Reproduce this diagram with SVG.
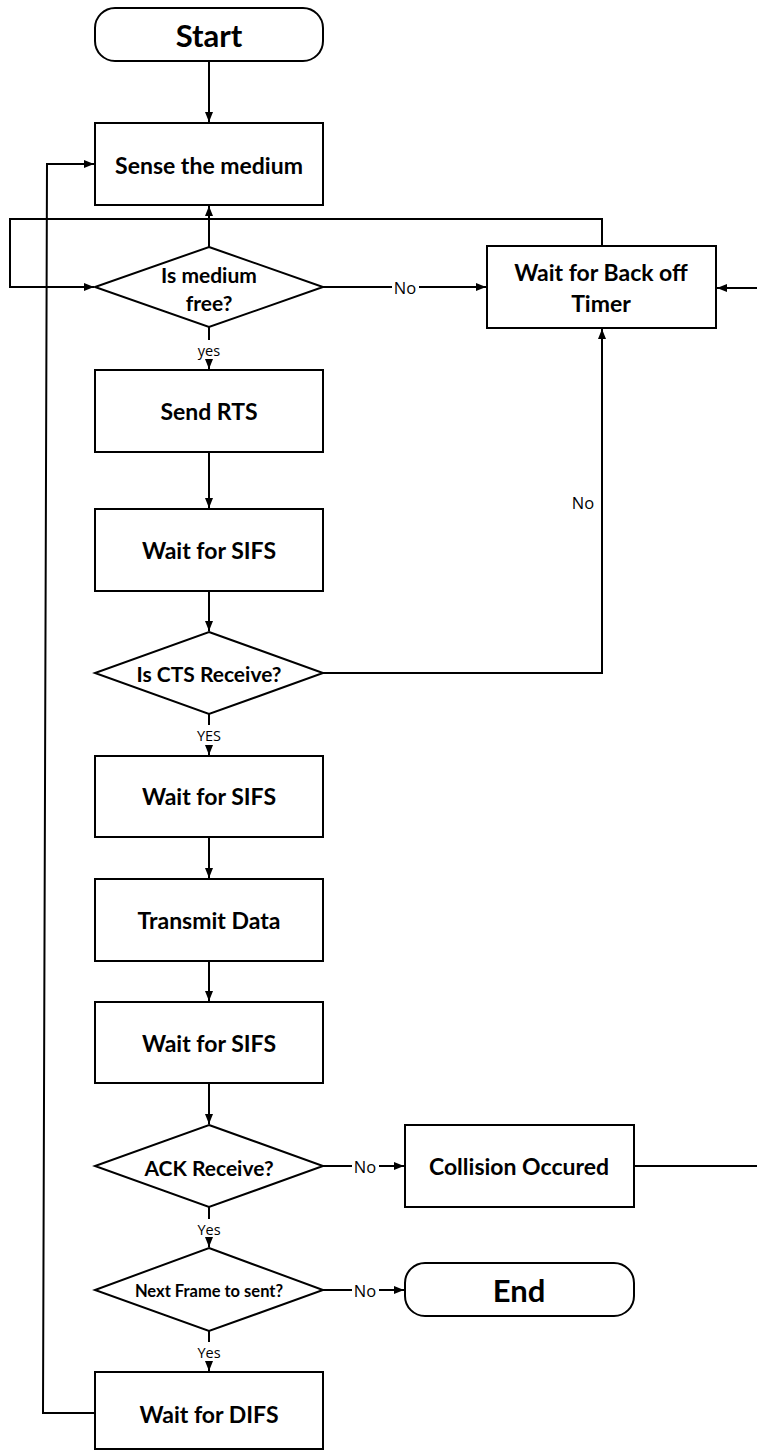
<svg xmlns="http://www.w3.org/2000/svg" width="757" height="1450" viewBox="0 0 757 1450">
<style>
.box{fill:#fff;stroke:#000;stroke-width:2}
.ln{fill:none;stroke:#000;stroke-width:2}
.t{font-family:Lato,"Open Sans","Liberation Sans",sans-serif;font-weight:bold;font-size:23px;fill:#000;text-anchor:middle;dominant-baseline:central}
.big{font-size:31px}
.dq{font-size:21px}
.sm{font-size:16.5px}
.lbl{font-family:"Open Sans","Liberation Sans",sans-serif;font-size:14.5px;fill:#000;text-anchor:middle;dominant-baseline:central}
.no{font-size:16.5px}
</style>
<defs>
<marker id="ah" markerUnits="userSpaceOnUse" markerWidth="10" markerHeight="10" viewBox="0 0 10 10" refX="10" refY="5" orient="auto">
<path d="M0,1 L10,5 L0,9 Z" fill="#000"/>
</marker>
</defs>
<rect width="757" height="1450" fill="#fff"/>
<g id="connectors">
<line class="ln" x1="209" y1="61" x2="209" y2="122" marker-end="url(#ah)"/>
<line class="ln" x1="209" y1="247" x2="209" y2="206" marker-end="url(#ah)"/>
<line class="ln" x1="209" y1="327" x2="209" y2="340"/>
<line class="ln" x1="209" y1="360" x2="209" y2="369" marker-end="url(#ah)"/>
<line class="ln" x1="323" y1="287" x2="486" y2="287" marker-end="url(#ah)"/>
<polyline class="ln" points="602,246 602,219 10,219 10,287 94,287" marker-end="url(#ah)"/>
<line class="ln" x1="757" y1="288" x2="717" y2="288" marker-end="url(#ah)"/>
<line class="ln" x1="209" y1="452" x2="209" y2="508" marker-end="url(#ah)"/>
<line class="ln" x1="209" y1="591" x2="209" y2="631" marker-end="url(#ah)"/>
<polyline class="ln" points="323,673 602,673 602,329" marker-end="url(#ah)"/>
<line class="ln" x1="209" y1="714" x2="209" y2="725"/>
<line class="ln" x1="209" y1="746" x2="209" y2="755" marker-end="url(#ah)"/>
<line class="ln" x1="209" y1="837" x2="209" y2="878" marker-end="url(#ah)"/>
<line class="ln" x1="209" y1="961" x2="209" y2="1001" marker-end="url(#ah)"/>
<line class="ln" x1="209" y1="1083" x2="209" y2="1124" marker-end="url(#ah)"/>
<line class="ln" x1="323" y1="1166" x2="404" y2="1166" marker-end="url(#ah)"/>
<line class="ln" x1="634" y1="1166" x2="757" y2="1166"/>
<line class="ln" x1="209" y1="1207" x2="209" y2="1219"/>
<line class="ln" x1="209" y1="1240" x2="209" y2="1247" marker-end="url(#ah)"/>
<line class="ln" x1="323" y1="1290" x2="404" y2="1290" marker-end="url(#ah)"/>
<line class="ln" x1="209" y1="1331" x2="209" y2="1342"/>
<line class="ln" x1="209" y1="1363" x2="209" y2="1371" marker-end="url(#ah)"/>
<polyline class="ln" points="95,1413 43,1413 47,164 94,164" marker-end="url(#ah)"/>
<rect x="392" y="278" width="27" height="19" fill="#fff"/>
<text class="lbl no" x="405" y="287">No</text>
<text class="lbl no" x="583" y="502">No</text>
<text class="lbl" x="209" y="350">yes</text>
<text class="lbl" x="209" y="735">YES</text>
<rect x="352" y="1157" width="27" height="19" fill="#fff"/>
<text class="lbl no" x="365" y="1166">No</text>
<text class="lbl" x="209" y="1229">Yes</text>
<rect x="352" y="1281" width="27" height="19" fill="#fff"/>
<text class="lbl no" x="365" y="1290">No</text>
<text class="lbl" x="209" y="1352">Yes</text>
</g>
<g id="start"><rect class="box" x="95" y="8" width="228" height="53" rx="20"/><text class="t big" x="209" y="35">Start</text></g>
<g id="sense"><rect class="box" x="95" y="123" width="228" height="82"/><text class="t" x="209" y="165">Sense the medium</text></g>
<g id="medium-free"><polygon class="box" points="209,247 323,287 209,327 95,287"/><text class="t dq" x="209" y="274">Is medium</text><text class="t dq" x="209" y="302">free?</text></g>
<g id="backoff"><rect class="box" x="487" y="246" width="229" height="82"/><text class="t" x="601" y="272">Wait for Back off</text><text class="t" x="601" y="303">Timer</text></g>
<g id="send-rts"><rect class="box" x="95" y="370" width="228" height="82"/><text class="t" x="209" y="411">Send RTS</text></g>
<g id="sifs1"><rect class="box" x="95" y="509" width="228" height="82"/><text class="t" x="209" y="550">Wait for SIFS</text></g>
<g id="cts"><polygon class="box" points="209,632 323,673 209,714 95,673"/><text class="t dq" x="209" y="673">Is CTS Receive?</text></g>
<g id="sifs2"><rect class="box" x="95" y="756" width="228" height="81"/><text class="t" x="209" y="796">Wait for SIFS</text></g>
<g id="transmit"><rect class="box" x="95" y="879" width="228" height="82"/><text class="t" x="209" y="920">Transmit Data</text></g>
<g id="sifs3"><rect class="box" x="95" y="1002" width="228" height="81"/><text class="t" x="209" y="1043">Wait for SIFS</text></g>
<g id="ack"><polygon class="box" points="209,1125 323,1166 209,1207 95,1166"/><text class="t dq" x="209" y="1167">ACK Receive?</text></g>
<g id="collision"><rect class="box" x="405" y="1125" width="229" height="82"/><text class="t" x="519" y="1166">Collision Occured</text></g>
<g id="next-frame"><polygon class="box" points="209,1248 323,1290 209,1331 95,1290"/><text class="t sm" x="209" y="1291">Next Frame to sent?</text></g>
<g id="end"><rect class="box" x="405" y="1263" width="229" height="53" rx="20"/><text class="t big" x="519" y="1290">End</text></g>
<g id="difs"><rect class="box" x="95" y="1372" width="228" height="77"/><text class="t" x="209" y="1414">Wait for DIFS</text></g>
</svg>
